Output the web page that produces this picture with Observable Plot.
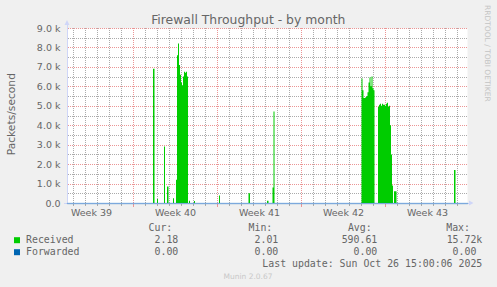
<!DOCTYPE html>
<html><head><meta charset="utf-8">
<script src="https://cdn.jsdelivr.net/npm/d3@7"></script>
<script src="https://cdn.jsdelivr.net/npm/@observablehq/plot@0.6"></script>
<style>
html,body{margin:0;padding:0;background:#f0f0f0;}
#chart{width:497px;height:287px;overflow:hidden;position:relative}
#chart svg{display:block}
</style></head><body><div id="chart"></div>
<script>
const title = "Firewall Throughput - by month";
const yLabel = "Packets/second";
const watermark = "RRDTOOL / TOBI OETIKER";
const footer = "Munin 2.0.67";
const lastUpdate = "Last update: Sun Oct 26 15:00:06 2025";
const domainStart = "2025-09-23T12:00";
const domainEnd = "2025-10-26T20:00";

const receivedTimes = [
  "2025-09-23T12:00","2025-09-30T16:00","2025-09-30T19:00","2025-10-01T00:00","2025-10-01T02:00",
  "2025-10-01T14:00","2025-10-01T16:00","2025-10-01T20:00","2025-10-01T23:00","2025-10-02T08:00",
  "2025-10-02T10:00","2025-10-02T14:00","2025-10-02T16:00","2025-10-02T18:00","2025-10-02T20:00",
  "2025-10-02T22:00","2025-10-03T00:00","2025-10-03T02:00","2025-10-03T04:00","2025-10-03T06:00",
  "2025-10-03T08:00","2025-10-03T10:00","2025-10-03T12:00","2025-10-03T14:00","2025-10-03T16:00",
  "2025-10-03T18:00","2025-10-04T02:00","2025-10-04T04:00","2025-10-06T04:00","2025-10-06T06:00",
  "2025-10-08T15:00","2025-10-08T18:00","2025-10-10T04:00","2025-10-10T07:00","2025-10-10T15:00",
  "2025-10-10T17:00","2025-10-10T19:00","2025-10-18T01:00","2025-10-18T03:00","2025-10-18T05:00",
  "2025-10-18T07:00","2025-10-18T09:00","2025-10-18T11:00","2025-10-18T13:00","2025-10-18T15:00",
  "2025-10-18T17:00","2025-10-18T19:00","2025-10-18T21:00","2025-10-18T23:00","2025-10-19T01:00",
  "2025-10-19T03:00","2025-10-19T10:00","2025-10-19T12:00","2025-10-19T14:00","2025-10-19T16:00",
  "2025-10-19T18:00","2025-10-19T20:00","2025-10-19T22:00","2025-10-20T00:00","2025-10-20T02:00",
  "2025-10-20T04:00","2025-10-20T06:00","2025-10-20T08:00","2025-10-20T10:00","2025-10-20T12:00",
  "2025-10-20T14:00","2025-10-20T16:00","2025-10-20T18:00","2025-10-20T23:00","2025-10-25T18:00",
  "2025-10-25T21:00","2025-10-26T20:00"
];
const receivedValues = [
  2,6900,2,200,2,
  2900,2,850,2,250,
  2,1200,7600,8200,7100,
  6600,6200,6050,6500,6750,
  6700,6750,6500,2,120,
  2,100,2,380,2,
  500,2,120,2,800,
  4700,2,6400,5800,5400,
  5400,5450,5500,5700,6200,
  6450,6000,6500,5900,5800,
  2,4950,5050,5100,5000,
  5100,5050,5050,5000,5100,
  5150,4950,5000,4000,2500,
  900,2,600,2,1700,
  2,2
];
const forwardedTimes = [domainStart, domainEnd];
const forwardedValues = [0, 0];

const yTickValues = [0,1000,2000,3000,4000,5000,6000,7000,8000,9000];
const yTickLabels = ["0.0","1.0 k","2.0 k","3.0 k","4.0 k","5.0 k","6.0 k","7.0 k","8.0 k","9.0 k"];
const yMinorValues = [500,1500,2500,3500,4500,5500,6500,7500,8500];
const weekLabelTimes = ["2025-09-25T12:00","2025-10-02T12:00","2025-10-09T12:00","2025-10-16T12:00","2025-10-23T12:00"];
const weekLabels = ["Week 39","Week 40","Week 41","Week 42","Week 43"];
const weekStartTimes = ["2025-09-29T00:00","2025-10-06T00:00","2025-10-13T00:00","2025-10-20T00:00"];

const legendNames = ["Received","Forwarded"];
const legendColors = ["#00cc00","#0066b3"];
const columnHeaders = ["Cur:","Min:","Avg:","Max:"];
const legendCur = ["2.18","0.00"];
const legendMin = ["2.01","0.00"];
const legendAvg = ["590.61","0.00"];
const legendMax = ["15.72k","0.00 "];

const T = s => new Date(s + "Z");
const received = receivedTimes.map((t, i) => ({t: T(t), v: receivedValues[i]}));
const forwarded = forwardedTimes.map((t, i) => ({t: T(t), v: forwardedValues[i]}));
const x0 = T(domainStart), x1 = T(domainEnd);
const days = d3.utcDay.range(x0, x1).filter(d => d > x0);
const weekStarts = weekStartTimes.map(T);
const minorDays = days.filter(d => !weekStarts.some(w => +w === +d));
const weekMids = weekLabelTimes.map(T);

const GRID = "#ababab", MGRID = "#eb9595", AXIS = "#CFD6F8", FONT = "#666666";

const chart = Plot.plot({
  width: 497, height: 287,
  marginLeft: 67, marginRight: 30, marginTop: 28, marginBottom: 84,
  style: {background: "#f0f0f0", color: FONT, fontFamily: "DejaVu Sans", fontSize: "9.5px"},
  x: {type: "utc", domain: [x0, x1]},
  y: {domain: [0, 9000]},
  marks: [
    Plot.frame({fill: "#ffffff", stroke: "none"}),
    Plot.areaY(received, {x: "t", y: "v", curve: "step-after", fill: legendColors[0], clip: true}),
    Plot.ruleX([x0], {stroke: AXIS, insetTop: -5}),
    Plot.ruleY([0], {stroke: AXIS, insetLeft: -3, insetRight: -2}),
    Plot.lineY(forwarded, {x: "t", y: "v", stroke: legendColors[1], strokeOpacity: 0.4}),
    Plot.axisY({ticks: yTickValues, tickFormat: d => yTickLabels[yTickValues.indexOf(d)], tickSize: 0, tickPadding: 7, label: null}),
    Plot.axisX({ticks: weekMids, tickFormat: d => weekLabels[weekMids.findIndex(w => +w === +d)], tickSize: 0, tickPadding: 6, label: null})
  ]
});
document.getElementById("chart").appendChild(chart);

const X = chart.scale("x"), Y = chart.scale("y");
const sx = v => X.apply(v), sy = v => Y.apply(v);
const svg = d3.select(chart);

// dotted grid (1px on / 1px off), positions from the plot's scales, snapped to whole pixels
const gLeft = Math.round(sx(x0)), gRight = Math.round(sx(x1));
const gTop = Math.round(sy(9000)), gBottom = Math.round(sy(0));
const hDots = ys => ys.map(v => { const y = Math.round(sy(v)); let s = "";
  for (let x = gLeft + 1; x < gRight; x += 2) s += `M${x},${y}h1v1h-1z`; return s; }).join("");
const vDots = xs => xs.map(d => { const x = Math.round(sx(d)); let s = "";
  for (let y = gTop; y < gBottom; y += 2) s += `M${x},${y}h1v1h-1z`; return s; }).join("");
const grid = d3.create("svg:g").attr("shape-rendering", "crispEdges");
grid.append("path").attr("d", hDots(yMinorValues)).attr("fill", GRID);
grid.append("path").attr("d", vDots(minorDays)).attr("fill", GRID);
grid.append("path").attr("d", hDots(yTickValues.filter(v => v > 0))).attr("fill", MGRID);
grid.append("path").attr("d", vDots(weekStarts)).attr("fill", MGRID);
grid.append("path").attr("d", minorDays.map(d => `M${Math.round(sx(d))},${gBottom + 1}h1v2h-1z`).join("")).attr("fill", GRID);
grid.append("path").attr("d", weekStarts.map(d => `M${Math.round(sx(d))},${gBottom + 1}h1v3h-1z`).join("")).attr("fill", MGRID);
const areaNode = chart.querySelector('g[aria-label="area"]');
if (areaNode) areaNode.parentNode.insertBefore(grid.node(), areaNode);
else chart.appendChild(grid.node());

const g = svg.append("g").attr("text-anchor", "start");
const y0 = sy(0), xa = sx(x0), xe = sx(x1), ytop = sy(9000);
g.append("path").attr("d", `M${xa - 2.5},${ytop - 3}L${xa + 2.5},${ytop - 3}L${xa},${ytop - 8}Z`).attr("fill", AXIS);
g.append("path").attr("d", `M${xe + 2},${y0 - 2.5}L${xe + 2},${y0 + 2.5}L${xe + 6.5},${y0}Z`).attr("fill", AXIS);

const txt = (x, y, s, size, fill, anchor, family) => g.append("text").attr("x", x).attr("y", y)
  .attr("text-anchor", anchor).attr("font-family", family || "DejaVu Sans").attr("font-size", size)
  .attr("fill", fill).attr("xml:space", "preserve").style("white-space", "pre").text(s);

txt(248.3, 24, title, 12.4, FONT, "middle");
g.append("text").attr("transform", "translate(14.5,114.2) rotate(-90)").attr("text-anchor", "middle")
  .attr("font-family", "DejaVu Sans").attr("font-size", 10.7).attr("fill", FONT).text(yLabel);
g.append("text").attr("transform", "translate(485.3,5) rotate(90)").attr("text-anchor", "start")
  .attr("font-family", "DejaVu Sans").attr("font-size", 7.5).attr("fill", "#c4c4c4").text(watermark);
txt(248, 278.5, footer, 7.5, "#c8c8c8", "middle");

const mono = "DejaVu Sans Mono", ms = 9.9;
const headerRight = [172.3, 272.3, 371.7, 470];
const valueRight = [178.3, 278.3, 377.3, 482.3];
const rowBase = [243.2, 255.2];
columnHeaders.forEach((h, j) => txt(headerRight[j], 230.8, h, ms, FONT, "end", mono));
legendNames.forEach((n, i) => {
  g.append("rect").attr("x", 14).attr("y", rowBase[i] - 6).attr("width", 6).attr("height", 6).attr("fill", legendColors[i]);
  txt(26, rowBase[i], n, ms, FONT, "start", mono);
  [legendCur, legendMin, legendAvg, legendMax].forEach((col, j) => txt(valueRight[j], rowBase[i], col[i], ms, FONT, "end", mono));
});
txt(482.3, 267.2, lastUpdate, ms, FONT, "end", mono);
</script></body></html>
